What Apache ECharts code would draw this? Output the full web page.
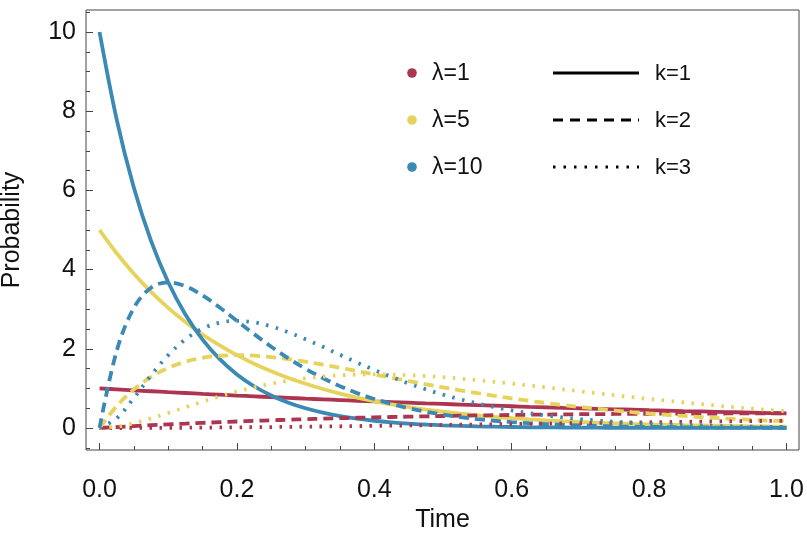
<!DOCTYPE html>
<html>
<head>
<meta charset="utf-8">
<script src="https://cdn.jsdelivr.net/npm/echarts@6/dist/echarts.min.js"></script>
<style>html,body{margin:0;padding:0;background:#fff;}#chart{width:807px;height:534px;}</style>
</head>
<body>
<div id="chart"></div>
<script>
// Time grid (x values)
const timeValues = [0,0.025,0.05,0.075,0.1,0.125,0.15,0.175,0.2,0.225,0.25,0.275,0.3,0.325,0.35,0.375,0.4,0.425,0.45,0.475,0.5,0.525,0.55,0.575,0.6,0.625,0.65,0.675,0.7,0.725,0.75,0.775,0.8,0.825,0.85,0.875,0.9,0.925,0.95,0.975,1];

// lambda = 1
const lam1k1 = [1,0.975,0.951,0.928,0.905,0.883,0.861,0.840,0.819,0.799,0.779,0.760,0.741,0.723,0.705,0.687,0.670,0.654,0.638,0.622,0.607,0.592,0.577,0.563,0.549,0.535,0.522,0.509,0.497,0.484,0.472,0.461,0.449,0.438,0.427,0.417,0.407,0.397,0.387,0.377,0.368];
const lam1k2 = [0,0.024,0.048,0.070,0.091,0.110,0.129,0.147,0.164,0.180,0.195,0.209,0.222,0.235,0.247,0.258,0.268,0.278,0.287,0.295,0.303,0.311,0.317,0.324,0.329,0.335,0.339,0.344,0.348,0.351,0.354,0.357,0.360,0.362,0.363,0.365,0.366,0.367,0.367,0.368,0.368];
const lam1k3 = [0,0.000,0.001,0.003,0.005,0.007,0.010,0.013,0.016,0.020,0.024,0.029,0.033,0.038,0.043,0.048,0.054,0.059,0.065,0.070,0.076,0.082,0.087,0.093,0.099,0.105,0.110,0.116,0.122,0.127,0.133,0.138,0.144,0.149,0.154,0.160,0.165,0.170,0.175,0.179,0.184];
// lambda = 5
const lam5k1 = [5,4.412,3.894,3.437,3.033,2.676,2.362,2.085,1.839,1.623,1.433,1.264,1.116,0.984,0.869,0.767,0.677,0.597,0.527,0.465,0.410,0.362,0.320,0.282,0.249,0.220,0.194,0.171,0.151,0.133,0.118,0.104,0.092,0.081,0.071,0.063,0.056,0.049,0.043,0.038,0.034];
const lam5k2 = [0,0.552,0.974,1.289,1.516,1.673,1.772,1.824,1.839,1.826,1.791,1.738,1.673,1.600,1.521,1.438,1.353,1.269,1.186,1.104,1.026,0.950,0.879,0.811,0.747,0.686,0.631,0.577,0.529,0.482,0.441,0.401,0.366,0.334,0.304,0.276,0.250,0.227,0.205,0.186,0.168];
const lam5k3 = [0,0.034,0.122,0.242,0.379,0.523,0.664,0.798,0.920,1.027,1.119,1.195,1.255,1.300,1.331,1.348,1.353,1.348,1.334,1.311,1.283,1.247,1.208,1.165,1.120,1.072,1.025,0.974,0.925,0.874,0.826,0.777,0.732,0.689,0.646,0.603,0.562,0.524,0.488,0.453,0.421];
// lambda = 10
const lam10k1 = [10,7.788,6.065,4.724,3.679,2.865,2.231,1.738,1.353,1.054,0.821,0.639,0.498,0.388,0.302,0.235,0.183,0.143,0.111,0.087,0.067,0.053,0.041,0.032,0.025,0.019,0.015,0.012,0.009,0.007,0.006,0.004,0.003,0.003,0.002,0.002,0.001,0.001,0.001,0.001,0.000];
const lam10k2 = [0,1.947,3.033,3.543,3.679,3.581,3.347,3.041,2.707,2.372,2.052,1.758,1.494,1.261,1.057,0.881,0.733,0.608,0.500,0.411,0.337,0.276,0.225,0.183,0.149,0.121,0.098,0.079,0.064,0.051,0.041,0.033,0.027,0.022,0.017,0.014,0.011,0.009,0.007,0.006,0.005];
const lam10k3 = [0,0.243,0.758,1.329,1.839,2.238,2.510,2.661,2.707,2.668,2.566,2.416,2.241,2.049,1.850,1.652,1.464,1.291,1.124,0.976,0.842,0.724,0.619,0.526,0.446,0.377,0.317,0.267,0.223,0.187,0.156,0.129,0.107,0.089,0.073,0.060,0.050,0.041,0.034,0.028,0.023];

// ticks
const xMajorTicks = [0,0.2,0.4,0.6,0.8,1.0];
const xMinorTicks = [0.05,0.1,0.15,0.25,0.3,0.35,0.45,0.5,0.55,0.65,0.7,0.75,0.85,0.9,0.95];
const yMajorTicks = [0,2,4,6,8,10];
const yMinorTicks = [-0.5,0.5,1,1.5,2.5,3,3.5,4.5,5,5.5,6.5,7,7.5,8.5,9,9.5,10.5];

const lambdaLabels = ['λ=1','λ=5','λ=10'];
const kLabels = ['k=1','k=2','k=3'];

const colors = ['#ad3550','#e6d35c','#3b89b5'];
const dashTypes = ['solid',[10,6],[2.5,7.5]];
const FONT = '"Liberation Sans", Arial, Helvetica, sans-serif';

const curves = [
  [lam1k1, lam5k1, lam10k1],
  [lam1k2, lam5k2, lam10k2],
  [lam1k3, lam5k3, lam10k3]
];

const series = [];
curves.forEach((group, k) => {
  group.forEach((vals, l) => {
    series.push({
      type: 'line',
      name: lambdaLabels[l] + ' ' + kLabels[k],
      xAxisIndex: 0, yAxisIndex: 0,
      data: timeValues.map((t, i) => [t, vals[i]]),
      showSymbol: false,
      smooth: 0.35,
      lineStyle: {color: colors[l], width: 3.8, type: dashTypes[k], cap: 'butt'},
      z: 2
    });
  });
});

const X_MIN = -0.0197, X_MAX = 1.0182, Y_MIN = -0.556, Y_MAX = 10.556;
const tickColor = '#444';

const chart = echarts.init(document.getElementById('chart'), null, {renderer: 'canvas'});

// legend graphics
const legendGraphics = [];
const legY = [73, 120, 167];
lambdaLabels.forEach((lab, i) => {
  legendGraphics.push({type: 'circle', shape: {cx: 412, cy: legY[i], r: 4.8}, style: {fill: colors[i]}});
  legendGraphics.push({type: 'text', x: 432, y: legY[i] + 1, style: {text: lab, font: '23px ' + FONT, fill: '#111', textVerticalAlign: 'middle'}});
});
kLabels.forEach((lab, i) => {
  const dash = dashTypes[i] === 'solid' ? null : (i === 1 ? [10, 7] : [2.5, 8]);
  legendGraphics.push({type: 'line', shape: {x1: 553, y1: legY[i], x2: 639, y2: legY[i]}, style: {stroke: '#000', lineWidth: 3.2, lineDash: dash, lineCap: 'butt'}});
  legendGraphics.push({type: 'text', x: 655, y: legY[i] + 1, style: {text: lab, font: '22px ' + FONT, fill: '#111', textVerticalAlign: 'middle'}});
});

chart.setOption({
  animation: false,
  backgroundColor: '#fff',
  grid: {left: 86, top: 10, width: 713, height: 440, show: true, borderColor: '#444', borderWidth: 1, backgroundColor: 'transparent', containLabel: false, outerBoundsMode: 'none'},
  xAxis: [
    {
      type: 'value', min: X_MIN, max: X_MAX, position: 'bottom',
      name: 'Time', nameLocation: 'middle', nameGap: 56,
      nameTextStyle: {fontFamily: FONT, fontSize: 25, color: '#111'},
      axisLine: {show: false, onZero: false},
      splitLine: {show: false},
      axisTick: {show: true, inside: true, length: 7, customValues: xMajorTicks, lineStyle: {color: tickColor, width: 1}},
      axisLabel: {show: true, customValues: xMajorTicks, margin: 28, fontFamily: FONT, fontSize: 25, color: '#111', formatter: v => v.toFixed(1)}
    },
    {
      type: 'value', min: X_MIN, max: X_MAX, position: 'bottom', offset: 0,
      axisLine: {show: false, onZero: false}, splitLine: {show: false},
      axisTick: {show: true, inside: true, length: 4, customValues: xMinorTicks, lineStyle: {color: tickColor, width: 1}},
      axisLabel: {show: false}
    }
  ],
  yAxis: [
    {
      type: 'value', min: Y_MIN, max: Y_MAX, position: 'left',
      name: 'Probability', nameLocation: 'middle', nameGap: 61,
      nameTextStyle: {fontFamily: FONT, fontSize: 25, color: '#111'},
      axisLine: {show: false, onZero: false},
      splitLine: {show: false},
      axisTick: {show: true, inside: true, length: 7, customValues: yMajorTicks, lineStyle: {color: tickColor, width: 1}},
      axisLabel: {show: true, customValues: yMajorTicks, margin: 10, fontFamily: FONT, fontSize: 25, color: '#111'}
    },
    {
      type: 'value', min: Y_MIN, max: Y_MAX, position: 'left', offset: 0,
      axisLine: {show: false, onZero: false}, splitLine: {show: false},
      axisTick: {show: true, inside: true, length: 4, customValues: yMinorTicks, lineStyle: {color: tickColor, width: 1}},
      axisLabel: {show: false}
    }
  ],
  series: series,
  graphic: legendGraphics
});
</script>
</body>
</html>
